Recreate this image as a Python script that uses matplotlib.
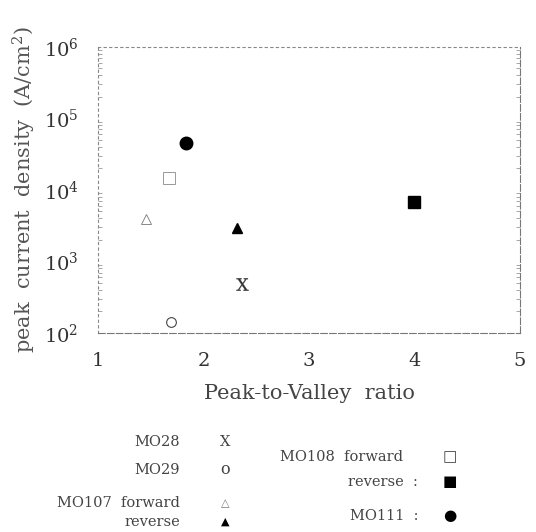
import numpy as np
import matplotlib.pyplot as plt

plt.rcParams['font.family'] = ['DejaVu Serif']
plt.rcParams['mathtext.fontset'] = 'dejavuserif'

# data
mo28_x, mo28_y = [2.36], [490]
mo29_x, mo29_y = [1.69], [143]
mo107f_x, mo107f_y = [1.45], [3900]
mo107r_x, mo107r_y = [2.32], [2900]
mo108f_x, mo108f_y = [1.67], [14500]
mo108r_x, mo108r_y = [4.0], [6800]
mo111_x, mo111_y = [1.83], [46000]

xticks = [1, 2, 3, 4, 5]
yticks = [1e2, 1e3, 1e4, 1e5, 1e6]
ytick_labels = ['$10^2$', '$10^3$', '$10^4$', '$10^5$', '$10^6$']

fig = plt.figure(figsize=(5.36, 5.32), dpi=100)
ax = fig.add_axes([0.183, 0.374, 0.787, 0.538])

ax.set_yscale('log')
ax.set_xlim(1, 5)
ax.set_ylim(1e2, 1e6)

# text-style markers like the original
ax.plot(mo28_x, mo28_y, ls='none', marker='$\\mathrm{X}$', ms=9, color='#333333', mew=0.2)
ax.plot(mo29_x, mo29_y, ls='none', marker='o', ms=7, mfc='none', mec='#444444', mew=0.8)
ax.plot(mo107f_x, mo107f_y, ls='none', marker='^', ms=7, mfc='none', mec='#888888', mew=0.7)
ax.plot(mo107r_x, mo107r_y, ls='none', marker='^', ms=7, color='black')
ax.plot(mo108f_x, mo108f_y, ls='none', marker='s', ms=8, mfc='none', mec='#999999', mew=0.7)
ax.plot(mo108r_x, mo108r_y, ls='none', marker='s', ms=9, color='black')
ax.plot(mo111_x, mo111_y, ls='none', marker='o', ms=9, color='black')

ax.set_xticks(xticks)
ax.set_xticklabels([str(v) for v in xticks], fontsize=14, color='#333333')
ax.set_yticks(yticks)
ax.set_yticklabels(ytick_labels, fontsize=14, color='#333333')
ax.tick_params(axis='both', which='major', length=0, pad=14)
ax.tick_params(axis='y', which='minor', direction='in', length=3, width=0.6,
               colors='#999999', right=True, left=True)
ax.tick_params(axis='y', which='minor', labelleft=False)

for side in ['left', 'top']:
    ax.spines[side].set_linestyle((0, (2, 3)))
    ax.spines[side].set_color('#888888')
    ax.spines[side].set_linewidth(0.8)
for side in ['right', 'bottom']:
    ax.spines[side].set_linestyle((0, (6, 2)))
    ax.spines[side].set_color('#777777')
    ax.spines[side].set_linewidth(0.8)

ax.set_xlabel('Peak-to-Valley  ratio', fontsize=15, color='#444444', labelpad=10)
ax.set_ylabel('peak  current  density  (A/cm$^2$)', fontsize=15, color='#555555', labelpad=4)

# legend written as plain text below the plot
tc = '#444444'
fs = 10.5
fig.text(180 / 536, 1 - 442 / 532, 'MO28', ha='right', va='center', fontsize=fs, color=tc)
fig.text(225 / 536, 1 - 442 / 532, 'X', ha='center', va='center', fontsize=fs, color=tc)
fig.text(180 / 536, 1 - 470 / 532, 'MO29', ha='right', va='center', fontsize=fs, color=tc)
fig.text(225 / 536, 1 - 470 / 532, 'o', ha='center', va='center', fontsize=fs + 1, color=tc)
fig.text(180 / 536, 1 - 503 / 532, 'MO107  forward', ha='right', va='center', fontsize=fs, color=tc)
fig.text(225 / 536, 1 - 503 / 532, '△', ha='center', va='center', fontsize=8, color='#777777',
         family=['DejaVu Sans'])
fig.text(180 / 536, 1 - 522 / 532, 'reverse', ha='right', va='center', fontsize=fs, color=tc)
fig.text(225 / 536, 1 - 522 / 532, '▲', ha='center', va='center', fontsize=8, color='black',
         family=['DejaVu Sans'])

fig.text(403 / 536, 1 - 457 / 532, 'MO108  forward', ha='right', va='center', fontsize=fs, color=tc)
fig.text(450 / 536, 1 - 457 / 532, '□', ha='center', va='center', fontsize=11, color=tc,
         family=['DejaVu Sans'])
fig.text(418 / 536, 1 - 482 / 532, 'reverse  :', ha='right', va='center', fontsize=fs, color=tc)
fig.text(450 / 536, 1 - 482 / 532, '■', ha='center', va='center', fontsize=11, color='black',
         family=['DejaVu Sans'])
fig.text(418 / 536, 1 - 516 / 532, 'MO111  :', ha='right', va='center', fontsize=fs, color=tc)
fig.text(450 / 536, 1 - 516 / 532, '●', ha='center', va='center', fontsize=11, color='black',
         family=['DejaVu Sans'])

fig.savefig('out.png', dpi=100)
